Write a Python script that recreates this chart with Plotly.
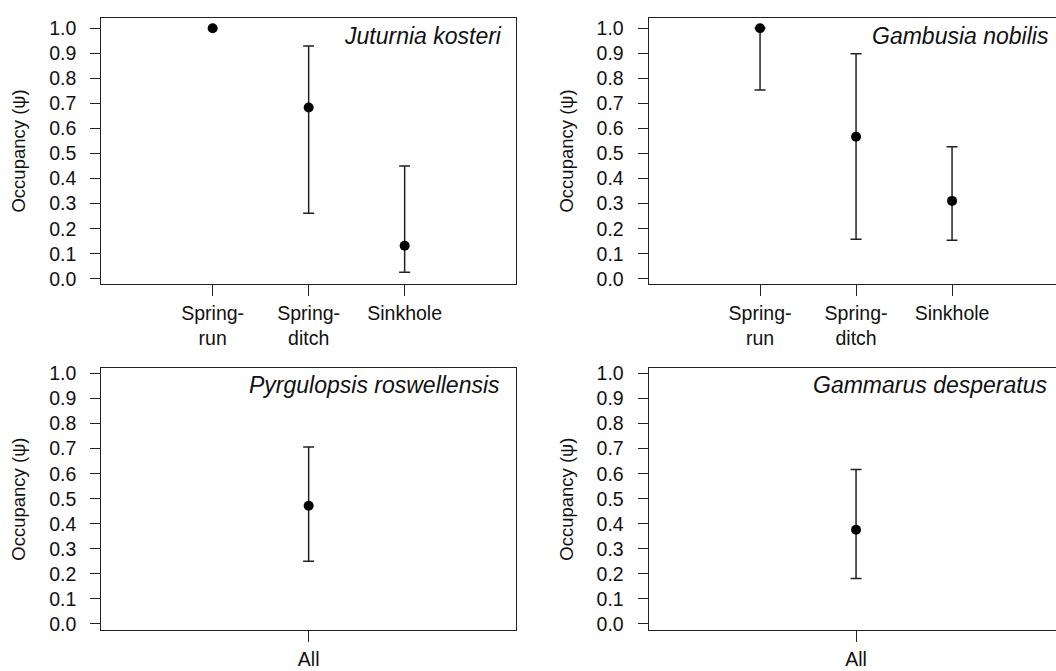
import plotly.graph_objects as go

# ---------------- data ----------------
habitats = ["Spring-<br>run", "Spring-<br>ditch", "Sinkhole"]
habitat_pos = [1, 2, 3]
all_label = ["All"]
all_pos = [2]

juturnia_psi = [1.0, 0.684, 0.132]
juturnia_lower = [1.0, 0.262, 0.026]
juturnia_upper = [1.0, 0.929, 0.450]

gambusia_psi = [1.0, 0.567, 0.311]
gambusia_lower = [0.754, 0.158, 0.154]
gambusia_upper = [1.0, 0.898, 0.527]

pyrg_psi = [0.472]
pyrg_lower = [0.250]
pyrg_upper = [0.707]

gammarus_psi = [0.376]
gammarus_lower = [0.182]
gammarus_upper = [0.617]

species = ["Juturnia kosteri", "Gambusia nobilis",
           "Pyrgulopsis roswellensis", "Gammarus desperatus"]

y_ticks = [0.0, 0.1, 0.2, 0.3, 0.4, 0.5, 0.6, 0.7, 0.8, 0.9, 1.0]

# ---------------- figure ----------------
W, H = 1056, 671
FONT = "Liberation Sans, Arial, Helvetica, sans-serif"
LINE = "#222222"
TXT = "#111111"
TICK_SIZE = 19.5

fig = go.Figure()

panels = [
    ("x", "y", habitat_pos, habitats, juturnia_psi, juturnia_lower, juturnia_upper),
    ("x2", "y2", habitat_pos, habitats, gambusia_psi, gambusia_lower, gambusia_upper),
    ("x3", "y3", all_pos, all_label, pyrg_psi, pyrg_lower, pyrg_upper),
    ("x4", "y4", all_pos, all_label, gammarus_psi, gammarus_lower, gammarus_upper),
]

for xa, ya, xs, labs, psi, lo, up in panels:
    for x, p, l, u in zip(xs, psi, lo, up):
        has_bar = u > l
        fig.add_trace(go.Scatter(
            x=[x], y=[p], xaxis=xa, yaxis=ya, mode="markers",
            marker=dict(color="black", size=10),
            error_y=dict(type="data", symmetric=False,
                         array=[u - p], arrayminus=[p - l],
                         visible=has_bar, color=LINE, thickness=1.5, width=5.5),
            showlegend=False, hoverinfo="skip",
        ))

left_dom = [101.3 / W, 516.0 / W]
right_dom = [648.7 / W, 1.0]
top_dom = [1 - 282.7 / H, 1 - 12.0 / H]
bot_dom = [1 - 634.4 / H, 1 - 368.3 / H]

x_left_range = [-0.16, 4.16]
x_right_range = [-0.16, -0.16 + (W - 648.7) / (414.7 / 4.32)]
y_top_range = [-0.021, 1.042]
y_bot_range = [-0.024, 1.021]


def xaxis(dom, rng, pos, labs):
    return dict(domain=dom, range=rng, tickmode="array", tickvals=pos, ticktext=labs,
                showline=True, linecolor=LINE, linewidth=1.3, mirror=True,
                ticks="outside", ticklen=11, tickwidth=1.3, tickcolor=LINE,
                showgrid=False, zeroline=False, fixedrange=True,
                tickfont=dict(family=FONT, size=TICK_SIZE, color=TXT), ticklabelstandoff=0)


def yaxis(dom, rng, anchor, mirror):
    return dict(domain=dom, range=rng, anchor=anchor, tickmode="array", tickvals=y_ticks,
                ticktext=[f"{v:.1f}" for v in y_ticks],
                showline=True, linecolor=LINE, linewidth=1.3, mirror=mirror,
                ticks="outside", ticklen=10, tickwidth=1.3, tickcolor=LINE,
                showgrid=False, zeroline=False, fixedrange=True,
                tickfont=dict(family=FONT, size=TICK_SIZE, color=TXT), ticklabelstandoff=10,
                title=dict(text="Occupancy (\u03c8)", standoff=18,
                           font=dict(family=FONT, size=18.5, color=TXT)))


fig.update_layout(
    width=W, height=H, margin=dict(l=0, r=0, t=0, b=0),
    paper_bgcolor="white", plot_bgcolor="white",
    xaxis=dict(**xaxis(left_dom, x_left_range, habitat_pos, habitats), anchor="y"),
    yaxis=yaxis(top_dom, y_top_range, "x", True),
    xaxis2=dict(**xaxis(right_dom, x_right_range, habitat_pos, habitats), anchor="y2"),
    yaxis2=yaxis(top_dom, y_top_range, "x2", False),
    xaxis3=dict(**xaxis(left_dom, x_left_range, all_pos, all_label), anchor="y3"),
    yaxis3=yaxis(bot_dom, y_bot_range, "x3", True),
    xaxis4=dict(**xaxis(right_dom, x_right_range, all_pos, all_label), anchor="y4"),
    yaxis4=yaxis(bot_dom, y_bot_range, "x4", False),
)

label_pos = [(503.5, 30.0), (1050.5, 30.0), (502.0, 385.5), (1048.5, 385.5)]
for name, (px, py) in zip(species, label_pos):
    fig.add_annotation(text=f"<i>{name}</i>", xref="paper", yref="paper",
                       x=px / W, y=1 - py / H, xanchor="right", yanchor="middle",
                       showarrow=False, font=dict(family=FONT, size=23, color=TXT))

fig.write_html("out.html", config={"displayModeBar": False},
               post_script="document.body.style.margin='0';document.body.style.overflow='hidden';")
